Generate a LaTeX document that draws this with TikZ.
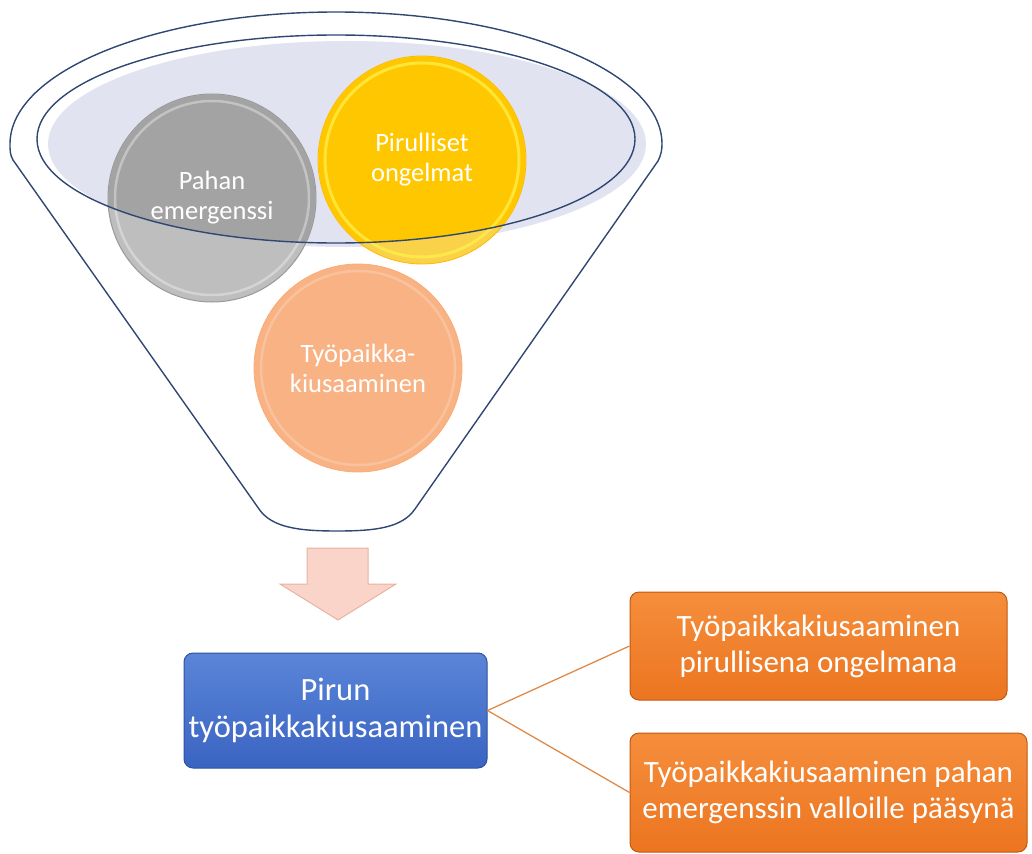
\documentclass[tikz,border=0pt]{standalone}
\usepackage{fontspec}
\setmainfont{Carlito}
\definecolor{funnelline}{HTML}{2F4772}
\definecolor{lav}{HTML}{E1E4F0}
\definecolor{grayLo}{HTML}{BEBEBE}
\definecolor{grayHi}{HTML}{A3A3A3}
\definecolor{yelLo}{HTML}{FAD24A}
\definecolor{yelHi}{HTML}{FFC700}
\definecolor{yelRim}{HTML}{FFF04A}
\definecolor{peach}{HTML}{F8B283}
\definecolor{arrowfill}{HTML}{FAD4C8}
\definecolor{arrowedge}{HTML}{E6B3A4}
\definecolor{blueTop}{HTML}{5A85D8}
\definecolor{blueBot}{HTML}{3A64C2}
\definecolor{blueEdge}{HTML}{2E539C}
\definecolor{orTop}{HTML}{F58E3C}
\definecolor{orBot}{HTML}{EC7520}
\definecolor{orEdge}{HTML}{C2590F}
\definecolor{conncol}{HTML}{E08A4A}
\begin{document}
\begin{tikzpicture}[x=1pt,y=-1pt,
  funnel/.style={draw=funnelline,line width=1.4pt,line join=round},
  disc/.style={circle,minimum size=208pt,inner sep=0pt},
  disctext/.style={text=white,align=center,font=\fontsize{26.5}{30}\selectfont},
  bluebox/.style={rectangle,rounded corners=9pt,draw=blueEdge,line width=1pt,
    top color=blueTop,bottom color=blueBot,text=white,align=center,inner sep=0pt,
    font=\fontsize{32.5}{37}\selectfont},
  orbox/.style={rectangle,rounded corners=9pt,draw=orEdge,line width=1pt,
    top color=orTop,bottom color=orBot,text=white,align=center,inner sep=0pt,
    font=\fontsize{31}{36}\selectfont},
  conn/.style={draw=conncol,line width=1.3pt},
  arrowshape/.style={fill=arrowfill,draw=arrowedge,line width=1pt,line join=miter}]
\useasboundingbox (0,0) rectangle (1032,853);
% outer funnel
\draw[funnel] (259,509) -- (13,160) .. controls (10,155) and (10,150) .. (10,144)
  arc[start angle=180,end angle=360,x radius=326,y radius=132]
  .. controls (662,150) and (661,155) .. (658,161) -- (415,509)
  .. controls (402,528) and (375,531) .. (337,531)
  .. controls (300,531) and (272,528) .. (259,509);
% inner fill (offset)
\fill[lav] (347,144) ellipse[x radius=299,y radius=103];
% discs
\node[disc,fill=grayLo,draw=gray!80,line width=1pt] (gray) at (212,198) {};
\node[disc,fill=yelLo,draw=yelHi!80!orange,line width=0.8pt] (yellow) at (422,160) {};
\node[disc,fill=peach,draw=peach!90!orange,line width=0.8pt] (peachc) at (358,368) {};
\begin{scope}
  \clip (336,139) ellipse[x radius=299,y radius=104];
  \fill[grayHi] (gray.center) circle[radius=103.5];
  \fill[yelHi] (yellow.center) circle[radius=103.5];
\end{scope}
% rims
\draw[white,opacity=0.35,line width=2.5pt] (gray.center) circle[radius=97];
\draw[yelRim,opacity=0.75,line width=3pt] (yellow.center) circle[radius=97];
\draw[white,opacity=0.22,line width=2.5pt] (peachc.center) circle[radius=97];
% inner ellipse line
\draw[funnel] (336,139) ellipse[x radius=299,y radius=104];
% disc labels
\node[disctext] (graytext) at (gray.center) {Pahan\\emergenssi};
\node[disctext] (yellowtext) at (yellow.center) {Pirulliset\\ongelmat};
\node[disctext] (peachtext) at (peachc.center) {Työpaikka-\\kiusaaminen};
% arrow
\draw[arrowshape] (307,548) -- (368,548) -- (368,584) -- (396,584) -- (338,620)
  -- (280,584) -- (307,584) -- cycle;
% boxes
\node[bluebox,minimum width=303pt,minimum height=115pt] (blue) at (335.5,710.5)
  {Pirun\\työpaikkakiusaaminen};
\node[orbox,minimum width=377pt,minimum height=108pt] (o1) at (818.5,646)
  {Työpaikkakiusaaminen\\pirullisena ongelmana};
\node[orbox,minimum width=397pt,minimum height=119pt] (o2) at (828.5,792.5)
  {Työpaikkakiusaaminen pahan\\emergenssin valloille pääsynä};
\draw[conn] (blue.east) -- (o1.west);
\draw[conn] (blue.east) -- (o2.west);
\end{tikzpicture}
\end{document}
